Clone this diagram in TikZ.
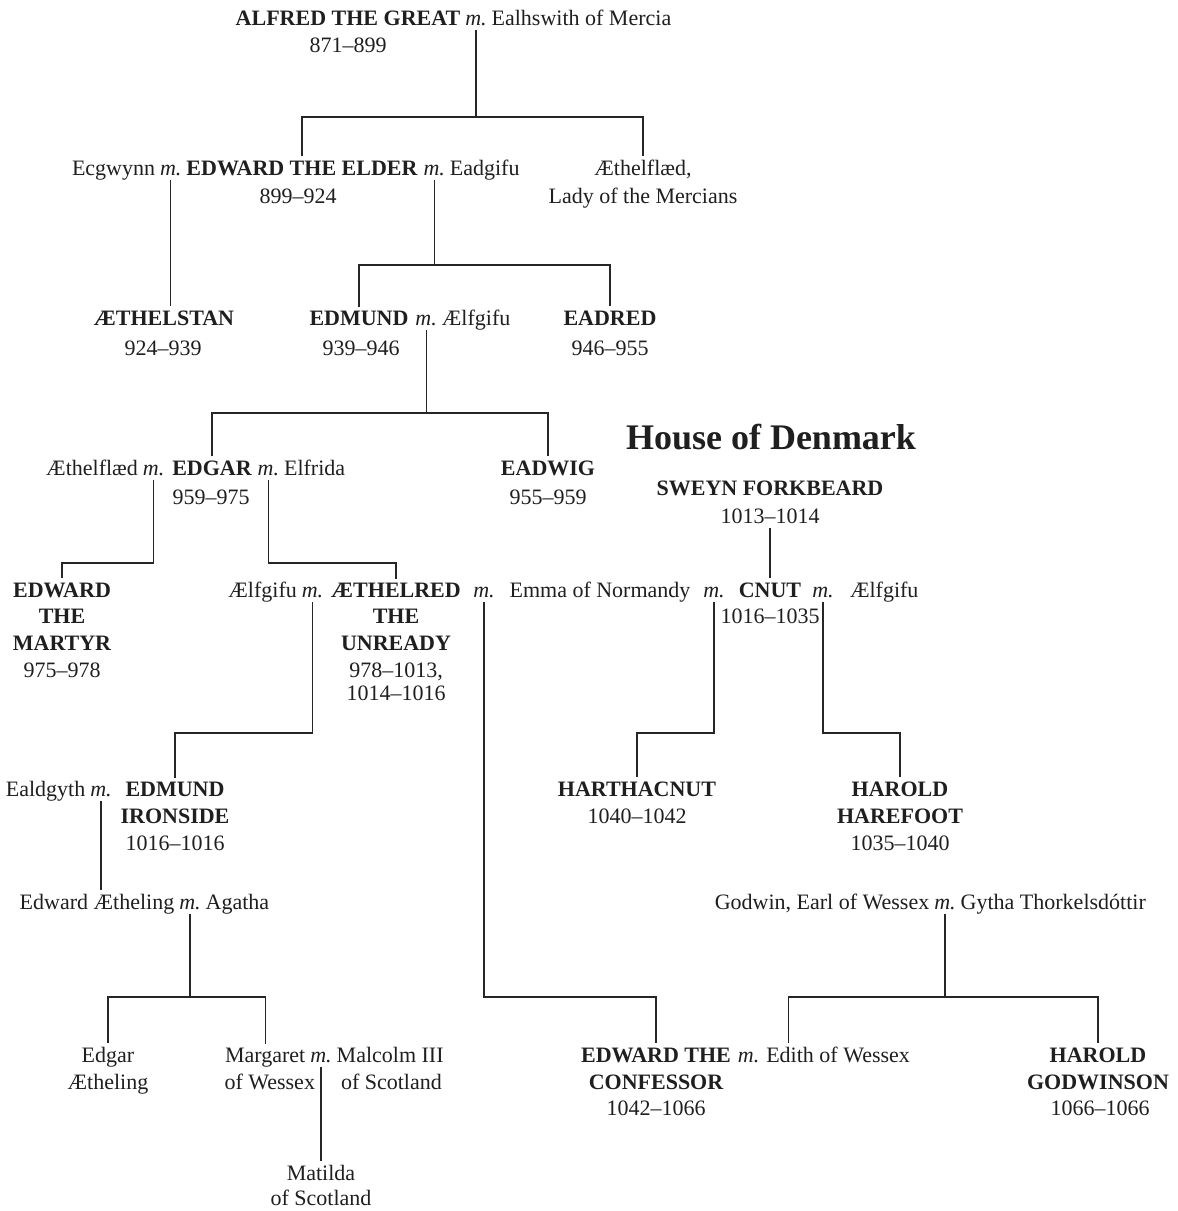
\documentclass[tikz,border=0pt]{standalone}
\usepackage{fontspec}
\setmainfont{Liberation Serif}
\newcommand\gfs{\fontsize{22}{27}\selectfont}
\begin{document}
\begin{tikzpicture}[x=1pt,y=-1pt,
  every node/.style={inner sep=0pt, outer sep=0pt, font=\gfs, text=black!88},
  nm/.style={font=\gfs\bfseries},
  mm/.style={font=\gfs\itshape},
  link/.style={line width=1.3pt, draw=black!85}]
\fill[white] (0,0) rectangle (1178,1211);
\useasboundingbox (0,0) rectangle (1178,1211);

% Row 1
\node[nm, anchor=base] (alfred) at (348,25) {ALFRED THE GREAT};
\node[mm, anchor=base west] (m1) at ([xshift=5pt]alfred.base east) {m.};
\node[anchor=base west] (ealhswith) at ([xshift=5pt]m1.base east) {Ealhswith of Mercia};
\node[anchor=base] (d1) at (348,52) {871–899};

% Row 2
\node[nm, anchor=base] (edwelder) at (302,175) {EDWARD THE ELDER};
\node[mm, anchor=base east] (m2a) at ([xshift=-5pt]edwelder.base west) {m.};
\node[anchor=base east] (ecgwynn) at ([xshift=-5pt]m2a.base west) {Ecgwynn};
\node[mm, anchor=base west] (m2b) at ([xshift=6pt]edwelder.base east) {m.};
\node[anchor=base west] (eadgifu) at ([xshift=5pt]m2b.base east) {Eadgifu};
\node[anchor=base] (d2) at (298,203) {899–924};
\node[anchor=base] (aethelflaed) at (643,175) {Æthelflæd,};
\node[anchor=base] (lady) at (643,203) {Lady of the Mercians};

% Row 3
\node[nm, anchor=base] (aethelstan) at (164,325) {ÆTHELSTAN};
\node[anchor=base] (d3a) at (163,355) {924–939};
\node[nm, anchor=base] (edmund) at (359,325) {EDMUND};
\node[mm, anchor=base west] (m3) at ([xshift=7pt]edmund.base east) {m.};
\node[anchor=base west] (aelfgifuA) at ([xshift=5pt]m3.base east) {Ælfgifu};
\node[anchor=base] (d3b) at (361,355) {939–946};
\node[nm, anchor=base] (eadred) at (610,325) {EADRED};
\node[anchor=base] (d3c) at (610,355) {946–955};

% House of Denmark
\node[font=\fontsize{36}{40}\selectfont\bfseries, anchor=base] (house) at (771,449) {House of Denmark};

% Row 4
\node[nm, anchor=base] (edgar) at (212,475) {EDGAR};
\node[mm, anchor=base east] (m4a) at ([xshift=-8pt]edgar.base west) {m.};
\node[anchor=base east] (aethelflaedB) at ([xshift=-5pt]m4a.base west) {Æthelflæd};
\node[mm, anchor=base west] (m4b) at ([xshift=6pt]edgar.base east) {m.};
\node[anchor=base west] (elfrida) at ([xshift=5pt]m4b.base east) {Elfrida};
\node[anchor=base] (d4a) at (211,504) {959–975};
\node[nm, anchor=base] (eadwig) at (548,475) {EADWIG};
\node[anchor=base] (d4b) at (548,504) {955–959};
\node[nm, anchor=base] (sweyn) at (770,495) {SWEYN FORKBEARD};
\node[anchor=base] (d4c) at (770,523) {1013–1014};

% Row 5
\node[nm, anchor=base] (martyrA) at (62,597) {EDWARD};
\node[nm, anchor=base] (martyrB) at (62,623) {THE};
\node[nm, anchor=base] (martyrC) at (62,650) {MARTYR};
\node[anchor=base] (d5a) at (62,677) {975–978};

\node[nm, anchor=base] (aethelred) at (396,597) {ÆTHELRED};
\node[mm, anchor=base east] (m5a) at ([xshift=-8pt]aethelred.base west) {m.};
\node[anchor=base east] (aelfgifuB) at ([xshift=-5pt]m5a.base west) {Ælfgifu};
\node[nm, anchor=base] (aethelredB) at (396,623) {THE};
\node[nm, anchor=base] (aethelredC) at (396,650) {UNREADY};
\node[anchor=base] (d5b) at (396,677) {978–1013,};
\node[anchor=base] (d5c) at (396,700) {1014–1016};
\node[mm, anchor=base] (m5b) at (484,597) {m.};
\node[anchor=base] (emma) at (600,597) {Emma of Normandy};
\node[mm, anchor=base] (m5c) at (714,597) {m.};
\node[nm, anchor=base] (cnut) at (770,597) {CNUT};
\node[mm, anchor=base] (m5d) at (823,597) {m.};
\node[anchor=base west] (aelfgifuC) at (850,597) {Ælfgifu};
\node[anchor=base] (d5d) at (770,623) {1016–1035};

% Row 6
\node[nm, anchor=base] (ironsideA) at (175,796) {EDMUND};
\node[mm, anchor=base] (m6) at (101,796) {m.};
\node[anchor=base east] (ealdgyth) at ([xshift=-5pt]m6.base west) {Ealdgyth};
\node[nm, anchor=base] (ironsideB) at (175,823) {IRONSIDE};
\node[anchor=base] (d6a) at (175,850) {1016–1016};
\node[nm, anchor=base] (harthacnut) at (637,796) {HARTHACNUT};
\node[anchor=base] (d6b) at (637,823) {1040–1042};
\node[nm, anchor=base] (harefootA) at (900,796) {HAROLD};
\node[nm, anchor=base] (harefootB) at (900,823) {HAREFOOT};
\node[anchor=base] (d6c) at (900,850) {1035–1040};

% Row 7
\node[mm, anchor=base] (m7a) at (190,909) {m.};
\node[anchor=base east] (edaeth) at ([xshift=-5pt]m7a.base west) {Edward Ætheling};
\node[anchor=base west] (agatha) at ([xshift=5pt]m7a.base east) {Agatha};
\node[mm, anchor=base] (m7b) at (945,909) {m.};
\node[anchor=base east] (godwin) at ([xshift=-5pt]m7b.base west) {Godwin, Earl of Wessex};
\node[anchor=base west] (gytha) at ([xshift=5pt]m7b.base east) {Gytha Thorkelsdóttir};

% Row 8
\node[anchor=base] (edgarA) at (108,1062) {Edgar};
\node[anchor=base] (edgarB) at (108,1089) {Ætheling};
\node[mm, anchor=base] (m8a) at (321,1062) {m.};
\node[anchor=base east] (margaret) at ([xshift=-5pt]m8a.base west) {Margaret};
\node[anchor=base west] (malcolm) at ([xshift=5pt]m8a.base east) {Malcolm III};
\node[anchor=base east] (wessex) at (315,1089) {of Wessex};
\node[anchor=base west] (scotland) at (341,1089) {of Scotland};
\node[nm, anchor=base] (confA) at (656,1062) {EDWARD THE};
\node[mm, anchor=base west] (m8b) at ([xshift=7pt]confA.base east) {m.};
\node[anchor=base west] (edith) at ([xshift=7pt]m8b.base east) {Edith of Wessex};
\node[nm, anchor=base] (confB) at (656,1089) {CONFESSOR};
\node[anchor=base] (d8a) at (656,1115) {1042–1066};
\node[nm, anchor=base] (godwinsonA) at (1098,1062) {HAROLD};
\node[nm, anchor=base] (godwinsonB) at (1098,1089) {GODWINSON};
\node[anchor=base] (d8b) at (1100,1115) {1066–1066};

% Row 9
\node[anchor=base] (matildaA) at (321,1180) {Matilda};
\node[anchor=base] (matildaB) at (321,1205) {of Scotland};

% Connectors
\draw[link] ([yshift=-5pt]m1.south) -- (m1.south |- 0,117);
\draw[link] ([yshift=4pt]edwelder.north) -- (edwelder.north |- 0,117) -- (aethelflaed.north |- 0,117) -- ([yshift=4pt]aethelflaed.north);

\draw[link] ([yshift=-5pt]m2a.south) -- ([yshift=4pt]m2a.south |- aethelstan.north);

\draw[link] ([yshift=-5pt]m2b.south) -- (m2b.south |- 0,265);
\draw[link] ([yshift=4pt]edmund.north) -- (edmund.north |- 0,265) -- (eadred.north |- 0,265) -- ([yshift=4pt]eadred.north);

\draw[link] ([yshift=-5pt]m3.south) -- (m3.south |- 0,413);
\draw[link] ([yshift=4pt]edgar.north) -- (edgar.north |- 0,413) -- (eadwig.north |- 0,413) -- ([yshift=4pt]eadwig.north);

\draw[link] ([yshift=-5pt]m4a.south) -- (m4a.south |- 0,563) -| ([yshift=4pt]martyrA.north);
\draw[link] ([yshift=-5pt]m4b.south) -- (m4b.south |- 0,563) -| ([yshift=4pt]aethelred.north);

\draw[link] ([yshift=-5pt]d4c.south) -- ([yshift=4pt]cnut.north);

\draw[link] ([yshift=-5pt]m5a.south) -- (m5a.south |- 0,733) -| ([yshift=4pt]ironsideA.north);
\draw[link] ([yshift=-5pt]m5b.south) -- (m5b.south |- 0,997) -| ([yshift=4pt]confA.north);
\draw[link] ([yshift=-5pt]m5c.south) -- (m5c.south |- 0,733) -| ([yshift=4pt]harthacnut.north);
\draw[link] ([yshift=-5pt]m5d.south) -- (m5d.south |- 0,733) -| ([yshift=4pt]harefootA.north);

\draw[link] ([yshift=-5pt]m6.south) -- ([yshift=4pt]m6.south |- edaeth.north);

\draw[link] ([yshift=-5pt]m7a.south) -- (m7a.south |- 0,997);
\draw[link] ([yshift=4pt]edgarA.north) -- (edgarA.north |- 0,997) -- (margaret.north |- 0,997) -- ([yshift=4pt]margaret.north);

\draw[link] ([yshift=-5pt]m7b.south) -- (m7b.south |- 0,997);
\draw[link] ([xshift=22pt,yshift=4pt]edith.north west) -- ([xshift=22pt]edith.north west |- 0,997) -- (godwinsonA.north |- 0,997) -- ([yshift=4pt]godwinsonA.north);

\draw[link] ([yshift=-5pt]m8a.south) -- ([yshift=4pt]m8a.south |- matildaA.north);
\end{tikzpicture}
\end{document}
